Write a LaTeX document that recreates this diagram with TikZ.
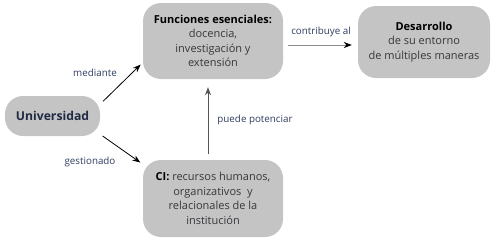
\documentclass[tikz,border=0pt]{standalone}
\usepackage{fontspec}
\setmainfont{Open Sans}
\usetikzlibrary{arrows.meta, positioning}
\definecolor{boxgray}{RGB}{196, 196, 196}
\definecolor{textdark}{RGB}{55, 55, 60}
\definecolor{labelblue}{RGB}{45, 60, 95}
\definecolor{linegray}{RGB}{85, 85, 85}
\definecolor{lightline}{RGB}{140, 140, 140}

\begin{document}
\begin{tikzpicture}[x=1pt, y=-1pt,
  concept/.style={fill=boxgray, rounded corners=18pt, align=center, inner sep=0pt,
    text=textdark, font=\fontsize{11}{14.5}\selectfont},
  link/.style={-{Stealth[length=8pt, width=6pt]}, line width=0.8pt},
  linklabel/.style={text=labelblue, font=\fontsize{9.8}{11}\selectfont}]
  % marco
  \useasboundingbox (0,0) rectangle (493,239);

  % conceptos
  \node[concept, minimum width=95pt, minimum height=40pt, text=labelblue!70!black,
    font=\fontsize{12.2}{14}\selectfont\bfseries] (univ) at (52.5,116) {Universidad};
  \node[concept, minimum width=140pt, minimum height=76pt] (func) at (213,41)
    {\textbf{\color{black}Funciones esenciales:}\\docencia,\\investigación y\\extensión};
  \node[concept, minimum width=132pt, minimum height=72pt] (desa) at (424,42)
    {\textbf{\color{black}Desarrollo}\\de su entorno\\de múltiples maneras};
  \node[concept, minimum width=140pt, minimum height=77pt] (ci) at (213,198.5)
    {\textbf{\color{black}CI:} recursos humanos,\\organizativos~~y\\relacionales de la\\institución};

  % enlaces
  \draw[link, shorten <=4pt, shorten >=3pt] (univ.14) -- (func.197);
  \draw[link, shorten <=3pt, shorten >=3pt] (univ.-21) -- (ci.154);
  \draw[link, linegray, shorten <=6pt, shorten >=8pt]
    ([xshift=-5pt]ci.north) -- ([xshift=-5pt]func.south);
  \draw[link, lightline, -{Stealth[length=8pt, width=6pt, black]}, shorten <=5pt, shorten >=6pt]
    ([yshift=-4pt]func.east) -- ([yshift=-3pt]desa.west);

  % etiquetas
  \node[linklabel] (lmed) at (95,73) {mediante};
  \node[linklabel] (lges) at (90,162) {gestionado};
  \node[linklabel] (lpue) at (255,120) {puede potenciar};
  \node[linklabel] (lcon) at (321,32) {contribuye al};
\end{tikzpicture}
\end{document}
